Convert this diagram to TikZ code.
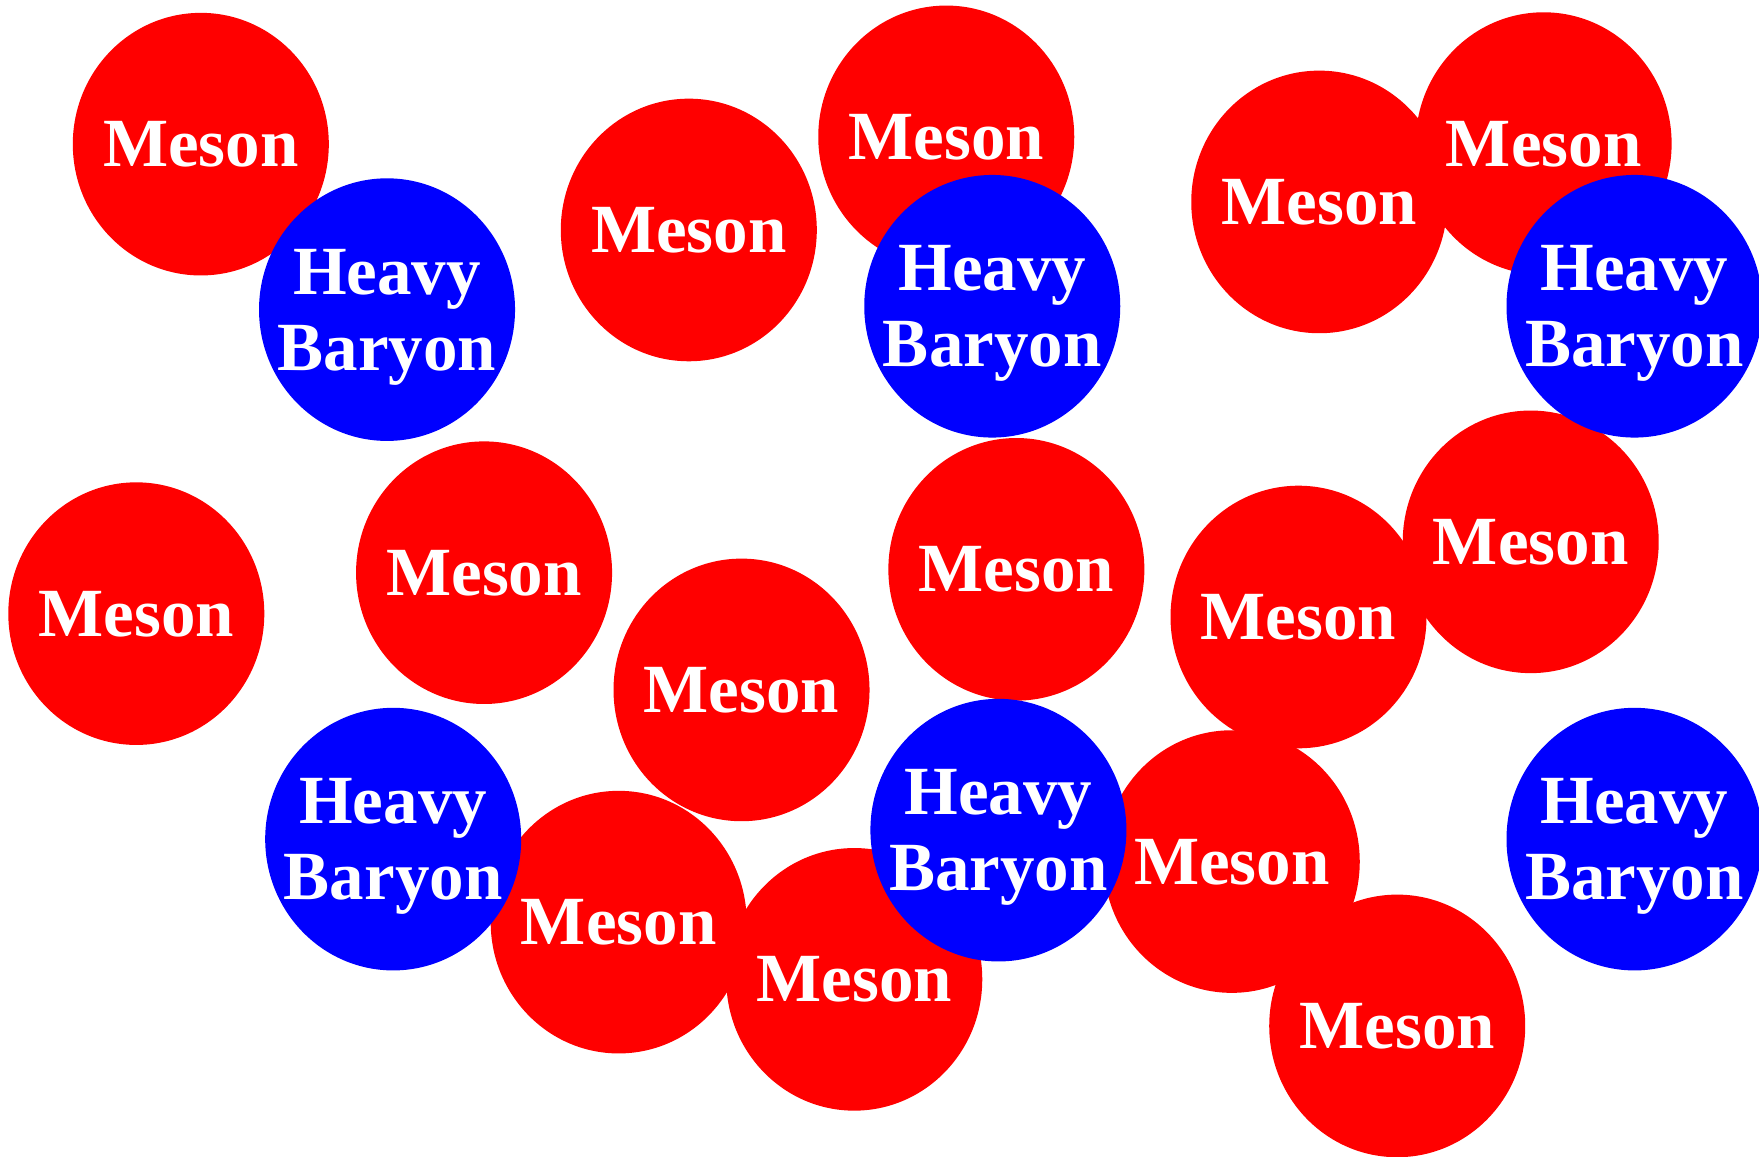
\documentclass[tikz,border=0pt]{standalone}
\usepackage{fontspec}
\setmainfont{Liberation Serif}
\begin{document}
\begin{tikzpicture}[x=1.1218pt,y=-1.1218pt,
  lbl/.style={text=white,font=\fontsize{69}{76}\selectfont\bfseries,align=center,inner sep=0pt,text depth=0pt},
  mesonfill/.style={fill={rgb,255:red,255;green,0;blue,0}},
  baryonfill/.style={fill={rgb,255:red,0;green,0;blue,255}}]
\useasboundingbox (0,0) rectangle (1568,1031);
\clip (0,0) rectangle (1568,1031);
% mesons
\foreach \n/\x/\y in {a/179/128.5, b/614/205, c/843.5/122, d/1176/180, e/1376/128,
  f/121.5/547, g/431.5/510.5, h/906/507.5, i/1157.5/550, j/1364.5/483,
  k/661/615, l/551.5/822, m/761.5/873, n/1098/768, o/1245.5/914.5}{
  \fill[mesonfill] (\x,\y) ellipse [x radius=128pt, y radius=131.3pt];
  \node[lbl] (meson\n) at (\x,\y) {Meson};
}
% heavy baryons
\foreach \n/\x/\y in {p/345/276, q/884.5/273, r/1457/273, s/350.5/748, t/890/740, u/1457/748}{
  \fill[baryonfill] (\x,\y) ellipse [x radius=128pt, y radius=131.3pt];
  \node[lbl] (baryon\n) at (\x,\y) {Heavy\\Baryon};
}
\end{tikzpicture}
\end{document}
